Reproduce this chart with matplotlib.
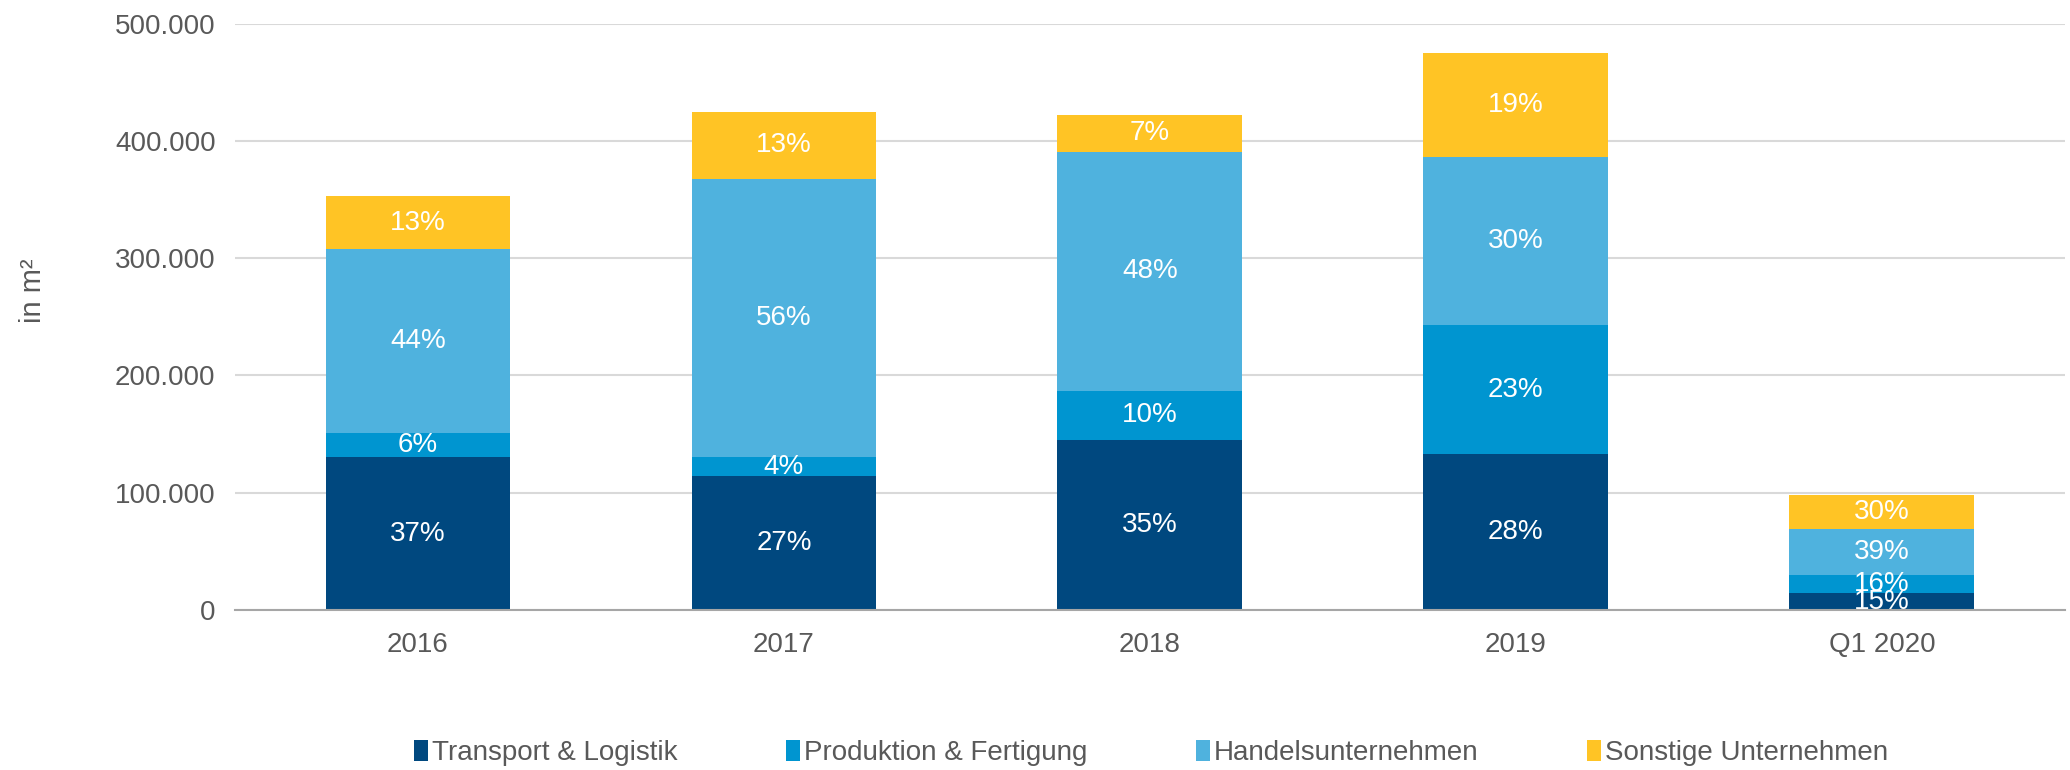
import matplotlib
matplotlib.use("Agg")
import matplotlib.pyplot as plt
from matplotlib.ticker import FuncFormatter
from matplotlib.patches import Patch
import numpy as np

plt.rcParams['font.family'] = ['Liberation Sans', 'DejaVu Sans']

# data
categories = ["2016", "2017", "2018", "2019", "Q1 2020"]
series_names = ["Transport & Logistik", "Produktion & Fertigung",
                "Handelsunternehmen", "Sonstige Unternehmen"]
transport = [130000, 114000, 145000, 133000, 14000]
produktion = [21000, 16000, 42000, 110000, 16000]
handel = [157000, 238000, 204000, 143000, 39000]
sonstige = [45000, 57000, 31000, 89000, 29000]
pct_transport = ["37%", "27%", "35%", "28%", "15%"]
pct_produktion = ["6%", "4%", "10%", "23%", "16%"]
pct_handel = ["44%", "56%", "48%", "30%", "39%"]
pct_sonstige = ["13%", "13%", "7%", "19%", "30%"]

colors = ["#00487F", "#0095D0", "#4FB2DE", "#FFC425"]
text_col = "#595959"
fs = 20

fig = plt.figure(figsize=(20.7, 7.7), dpi=100)
ax = fig.add_axes([0.1135, 0.208, 0.884, 0.761])

x = np.arange(len(categories))
bottom = np.zeros(len(categories))
all_series = [transport, produktion, handel, sonstige]
all_pcts = [pct_transport, pct_produktion, pct_handel, pct_sonstige]
for vals, pcts, col in zip(all_series, all_pcts, colors):
    vals = np.array(vals, dtype=float)
    ax.bar(x, vals, 0.505, bottom=bottom, color=col, zorder=3)
    for xi, b, v, p in zip(x, bottom, vals, pcts):
        ax.text(xi, b + v / 2, p, ha="center", va="center", color="white",
                fontsize=fs, zorder=4)
    bottom += vals

ax.set_xlim(-0.5, len(categories) - 0.5)
ax.set_ylim(0, 500000)
ax.set_yticks(np.arange(0, 500001, 100000))
ax.yaxis.set_major_formatter(FuncFormatter(lambda v, _: f"{int(v):,}".replace(",", ".")))
ax.set_xticks(x)
ax.set_xticklabels(categories)
ax.tick_params(axis="both", length=0, labelsize=fs, colors=text_col)
ax.tick_params(axis="x", pad=16)
ax.tick_params(axis="y", pad=14)
ax.grid(axis="y", color="#D9D9D9", linewidth=1.5, zorder=0)
for s in ["top", "right", "left"]:
    ax.spines[s].set_visible(False)
ax.spines["bottom"].set_color("#A6A6A6")
ax.spines["bottom"].set_linewidth(1.5)
ax.spines["bottom"].set_zorder(5)

fig.text(0.016, 0.623, "in m²", rotation=90, ha="center", va="center",
         fontsize=21, color=text_col)

handles = [Patch(facecolor=c, label=n) for c, n in zip(colors, series_names)]
fig.legend(handles=handles, loc="center", bbox_to_anchor=(0.556, 0.022),
           ncol=4, frameon=False, fontsize=fs, labelcolor=text_col,
           handlelength=0.5, handleheight=0.8, handletextpad=0.15,
           columnspacing=3.9)

fig.savefig("out.png", dpi=100)
